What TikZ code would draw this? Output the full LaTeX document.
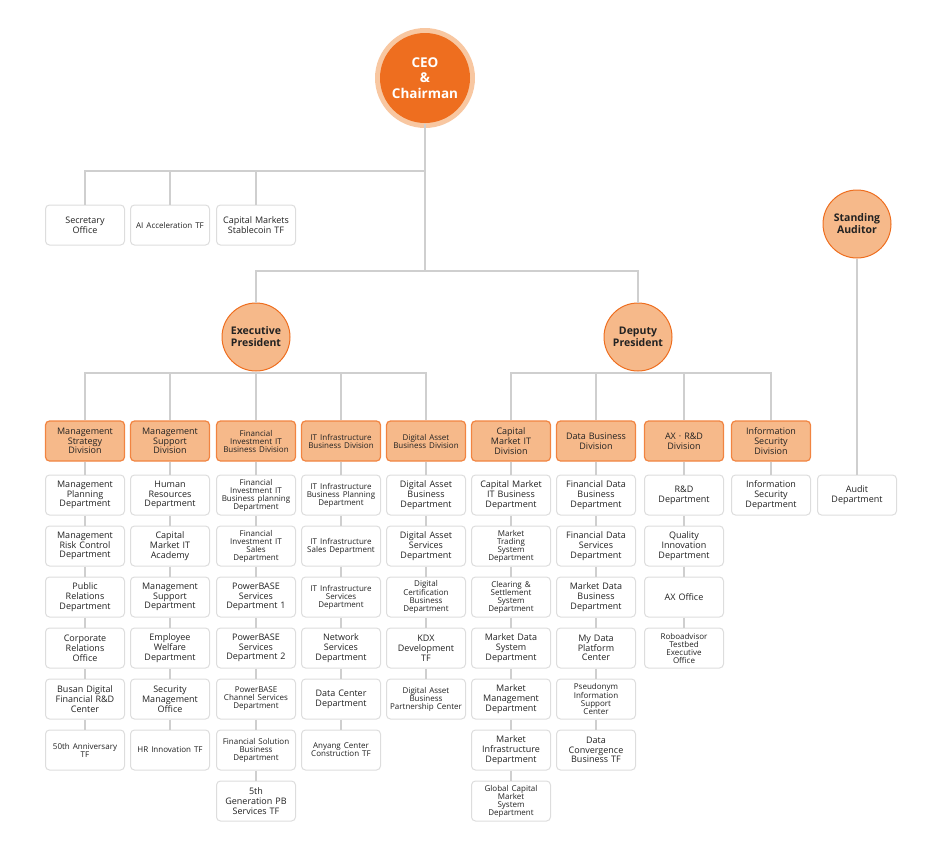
\documentclass[tikz,border=0pt]{standalone}
\usepackage{fontspec}
\setmainfont{Open Sans}
\usetikzlibrary{positioning}
\definecolor{kor}{HTML}{EE6E1F}
\definecolor{kpeach}{HTML}{F6B98A}
\definecolor{kline}{HTML}{CFCFCF}
\definecolor{kbox}{HTML}{DDDDDD}
\definecolor{ktext}{HTML}{222222}
\newcommand{\sm}[1]{{\fontsize{8}{8}\selectfont #1\par}}
\begin{document}
\begin{tikzpicture}[x=1pt,y=-1pt,
  dept/.style={rectangle, rounded corners=4pt, draw=kbox, line width=1pt, fill=white,
    minimum width=78pt, minimum height=40pt, text width=78pt, align=center,
    inner sep=0.5pt, text=ktext, font=\fontsize{9}{9.8}\selectfont},
  divn/.style={dept, draw=kor!85, fill=kpeach, line width=1.2pt},
  boss/.style={circle, draw=kor, line width=1pt, fill=kpeach, minimum size=68pt,
    align=center, inner sep=0pt, text=ktext, font=\bfseries\fontsize{10.5}{12}\selectfont},
  wire/.style={draw=kline, line width=1.2pt}]
\useasboundingbox (0,0) rectangle (942,854);

% top of the tree
\node[circle, fill=kpeach!80, minimum size=100pt] at (425,78) {};
\node[boss, fill=kor, draw=none, minimum size=90pt, text=white,
  font=\bfseries\fontsize{13.5}{15.5}\selectfont] (ceo) at (425,78) {CEO\\\&\\Chairman};
\node[dept] (sec) at (85,225) {Secretary\\Office};
\node[dept] (ai) at (170,225) {\sm{AI Acceleration TF}};
\node[dept] (stc) at (256,225) {Capital Markets\\Stablecoin TF};
\node[boss] (ep) at (256,337) {Executive\\President};
\node[boss] (dp) at (638,337) {Deputy\\President};
\node[boss] (sa) at (857,224) {Standing\\Auditor};

\coordinate (j1) at (425,171);
\coordinate (j2) at (425,271);
\draw[wire] (ceo) -- (j2);
\draw[wire] (j1) -| (sec);
\draw[wire] (j1) -| (ai);
\draw[wire] (j1) -| (stc);
\draw[wire] (j2) -| (ep);
\draw[wire] (j2) -| (dp);

% divisions and their departments
\foreach \c/\x/\top/\boss/\lst in {
  1/85/{Management\\Strategy\\Division}/ep/{{Management\\Planning\\Department},{Management\\Risk Control\\Department},{Public\\Relations\\Department},{Corporate\\Relations\\Office},{Busan Digital\\Financial R\&D\\Center},{\sm{50th Anniversary\\TF}}},
  2/170/{Management\\Support\\Division}/ep/{{Human\\Resources\\Department},{Capital\\Market IT\\Academy},{Management\\Support\\Department},{Employee\\Welfare\\Department},{Security\\Management\\Office},{\sm{HR Innovation TF}}},
  3/256/{\sm{Financial\\Investment IT\\Business Division}}/ep/{{\sm{Financial\\Investment IT\\Business planning\\Department}},{\sm{Financial\\Investment IT\\Sales\\Department}},{PowerBASE\\Services\\Department 1},{PowerBASE\\Services\\Department 2},{\sm{PowerBASE\\Channel Services\\Department}},{\sm{Financial Solution\\Business\\Department}},{5th\\Generation PB\\Services TF}},
  4/341/{\sm{IT Infrastructure\\Business Division}}/ep/{{\sm{IT Infrastructure\\Business Planning\\Department}},{\sm{IT Infrastructure\\Sales Department}},{\sm{IT Infrastructure\\Services\\Department}},{Network\\Services\\Department},{Data Center\\Department},{\sm{Anyang Center\\Construction TF}}},
  5/426/{\sm{Digital Asset\\Business Division}}/ep/{{Digital Asset\\Business\\Department},{Digital Asset\\Services\\Department},{\sm{Digital\\Certification\\Business\\Department}},{KDX\\Development\\TF},{\sm{Digital Asset\\Business\\Partnership Center}}},
  6/511/{Capital\\Market IT\\Division}/dp/{{Capital Market\\IT Business\\Department},{\sm{Market\\Trading\\System\\Department}},{\sm{Clearing \&\\Settlement\\System\\Department}},{Market Data\\System\\Department},{Market\\Management\\Department},{Market\\Infrastructure\\Department},{\sm{Global Capital\\Market\\System\\Department}}},
  7/596/{Data Business\\Division}/dp/{{Financial Data\\Business\\Department},{Financial Data\\Services\\Department},{Market Data\\Business\\Department},{My Data\\Platform\\Center},{\sm{Pseudonym\\Information\\Support\\Center}},{Data\\Convergence\\Business TF}},
  8/684/{AX · R\&D\\Division}/dp/{{R\&D\\Department},{Quality\\Innovation\\Department},{AX Office},{\sm{Roboadvisor\\Testbed\\Executive\\Office}}},
  9/771/{Information\\Security\\Division}/dp/{{Information\\Security\\Department}}}
{
  \node[divn] (d\c) at (\x,441) {\top};
  \draw[wire] (\boss) |- (\x,373) -- (d\c);
  \foreach \t [count=\i, remember=\i as \p (initially 0)] in \lst {
    \node[dept] (d\c-\i) at (\x,{495+51*(\i-1)}) {\t};
    \ifnum\i=1 \draw[wire] (d\c) -- (d\c-1);
    \else \draw[wire] (d\c-\p) -- (d\c-\i); \fi
  }
}

\node[dept] (aud) at (857,495) {Audit\\Department};
\draw[wire] (sa) -- (aud);
\end{tikzpicture}
\end{document}
